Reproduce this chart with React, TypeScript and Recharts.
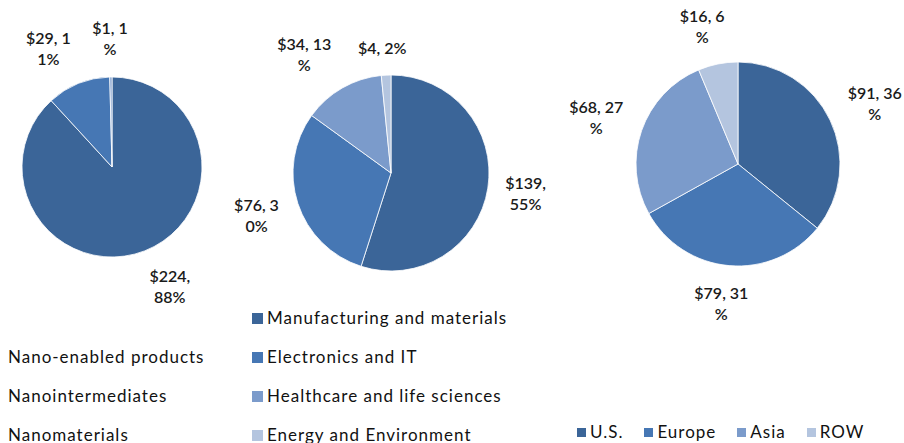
import { PieChart, Pie, Cell } from 'recharts';

const productTypes = ['Nano-enabled products', 'Nanointermediates', 'Nanomaterials'];
const productValues = [224, 29, 1];
const productLabels = ['$224,\n88%', '$29, 1\n1%', '$1, 1\n%'];

const sectors = ['Manufacturing and materials', 'Electronics and IT', 'Healthcare and life sciences', 'Energy and Environment'];
const sectorValues = [139, 76, 34, 4];
const sectorLabels = ['$139,\n55%', '$76, 3\n0%', '$34, 13\n%', '$4, 2%'];

const regions = ['U.S.', 'Europe', 'Asia', 'ROW'];
const regionValues = [91, 79, 68, 16];
const regionLabels = ['$91, 36\n%', '$79, 31\n%', '$68, 27\n%', '$16, 6\n%'];

const colors = ['#3b6598', '#4677b4', '#7b9bcb', '#b4c5df'];
const FONT = 'Lato, "Open Sans", sans-serif';

const toData = (names: string[], values: number[]) => names.map((name, i) => ({ name, value: values[i] }));

// outside-end label, wrapped the way the source chart wraps it
const makeLabel = (labels: string[]) => (props: any) => {
  const { cx, cy, midAngle, outerRadius, index } = props;
  const lines = labels[index].split('\n');
  const rad = (midAngle * Math.PI) / 180;
  const cos = Math.cos(rad);
  const sin = Math.sin(rad);
  const r = outerRadius + 17;
  const px = cx + r * cos;
  const py = cy - r * sin;
  const lh = 21;
  const w = Math.max(...lines.map((l) => l.length)) * 8.4;
  const h = lines.length * lh;
  const x = px + (w / 2) * Math.max(-1, Math.min(1, cos * 2.5));
  const top = py - (h / 2) * sin - h / 2;
  return (
    <text textAnchor="middle" fontFamily={FONT} fontSize={16} fontWeight={600} fill="#1a1a1a">
      {lines.map((l, i) => (
        <tspan key={i} x={x} y={top + lh * (i + 0.78)}>{l}</tspan>
      ))}
    </text>
  );
};

const legendText = {
  position: 'absolute' as const,
  fontFamily: FONT,
  fontSize: 17,
  letterSpacing: 1,
  color: '#111',
  whiteSpace: 'nowrap' as const,
  lineHeight: '20px',
};
const square = (c: string, s: number) => (
  <span style={{ display: 'inline-block', width: s, height: s, background: c, marginRight: 4 }} />
);

export default function App() {
  const pies = [
    { data: toData(productTypes, productValues), labels: productLabels, cx: 112, cy: 167, r: 90 },
    { data: toData(sectors, sectorValues), labels: sectorLabels, cx: 391, cy: 173, r: 98 },
    { data: toData(regions, regionValues), labels: regionLabels, cx: 738, cy: 164, r: 102 },
  ];
  return (
    <div style={{ position: 'absolute', left: 0, top: 0, width: 904, height: 443, background: '#fff', overflow: 'hidden' }}>
      <PieChart width={904} height={443} margin={{ top: 0, right: 0, bottom: 0, left: 0 }}>
        {pies.map((p, k) => (
          <Pie
            key={k}
            data={p.data}
            dataKey="value"
            nameKey="name"
            cx={p.cx}
            cy={p.cy}
            outerRadius={p.r}
            startAngle={90}
            endAngle={-270}
            stroke="#fff"
            strokeWidth={0.8}
            labelLine={false}
            label={makeLabel(p.labels)}
            isAnimationActive={false}
          >
            {p.data.map((d, i) => (
              <Cell key={d.name} fill={colors[i]} />
            ))}
          </Pie>
        ))}
      </PieChart>
      {productTypes.map((t, i) => (
        <div key={t} style={{ ...legendText, left: 8, top: 347 + i * 39 }}>{t}</div>
      ))}
      {sectors.map((t, i) => (
        <div key={t} style={{ ...legendText, left: 252, top: 308 + i * 39, display: 'flex', alignItems: 'center' }}>
          {square(colors[i], 11)}{t}
        </div>
      ))}
      <div style={{ ...legendText, left: 577, top: 422, display: 'flex', alignItems: 'center' }}>
        {regions.map((t, i) => (
          <span key={t} style={{ display: 'flex', alignItems: 'center', marginRight: 21 }}>{square(colors[i], 9)}{t}</span>
        ))}
      </div>
    </div>
  );
}
